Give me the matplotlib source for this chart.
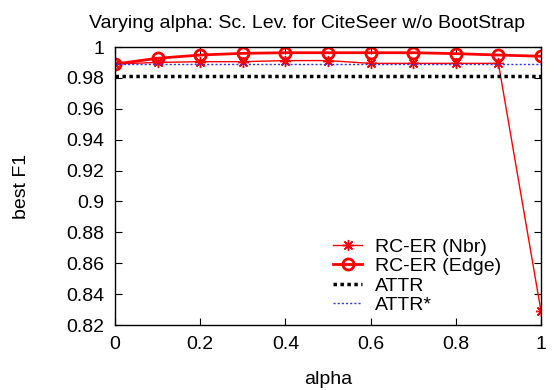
import matplotlib
matplotlib.use('Agg')
import matplotlib.pyplot as plt

alpha = [0, 0.1, 0.2, 0.3, 0.4, 0.5, 0.6, 0.7, 0.8, 0.9, 1.0]
nbr = [0.989, 0.990, 0.9905, 0.9905, 0.9912, 0.9912, 0.9894, 0.9894, 0.9894, 0.9894, 0.829]
edge = [0.989, 0.9927, 0.9948, 0.9959, 0.9963, 0.9963, 0.9963, 0.9963, 0.9957, 0.9948, 0.994]
attr = 0.981
attr_star = 0.989

plt.rcParams['font.family'] = ['Liberation Sans', 'DejaVu Sans']
fig = plt.figure(figsize=(5.59, 3.90), dpi=100)
ax = fig.add_axes([115/559, 1 - 325/390, (541-115)/559, (325-47)/390])

ax.plot(alpha, nbr, color='red', lw=1, marker=(8, 2, 0), ms=8, mew=1, label='RC-ER (Nbr)')
ax.plot(alpha, edge, color='red', lw=2, marker='o', ms=8, mfc='none', mew=2, label='RC-ER (Edge)')
ax.plot([0, 1], [attr, attr], color='black', lw=2.5, ls=(0, (1, 1)), label='ATTR')
ax.plot([0, 1], [attr_star, attr_star], color='#3030ff', lw=1, ls=(0, (1.5, 1.5)), label='ATTR*')

ax.set_xlim(0, 1)
ax.set_ylim(0.82, 1.0)
ax.set_xticks([0, 0.2, 0.4, 0.6, 0.8, 1])
ax.set_xticklabels(['0', '0.2', '0.4', '0.6', '0.8', '1'])
ax.set_yticks([0.82, 0.84, 0.86, 0.88, 0.9, 0.92, 0.94, 0.96, 0.98, 1.0])
ax.set_yticklabels(['0.82', '0.84', '0.86', '0.88', '0.9', '0.92', '0.94', '0.96', '0.98', '1'])
ax.tick_params(direction='in', top=True, right=True, labelsize=14, length=5, pad=8)
for s in ax.spines.values():
    s.set_linewidth(1)

ax.set_xlabel('alpha', fontsize=14, labelpad=13)
ax.set_ylabel('best F1', fontsize=14, labelpad=26)
ax.set_title('Varying alpha: Sc. Lev. for CiteSeer w/o BootStrap', fontsize=14, pad=14, x=0.45)

ax.legend(loc='upper left', frameon=False, fontsize=14, handlelength=1.5, handletextpad=0.65,
          labelspacing=0.1, borderpad=0, borderaxespad=0,
          bbox_to_anchor=((333-115)/426, (325-238)/278))

fig.savefig('out.png', dpi=100)
